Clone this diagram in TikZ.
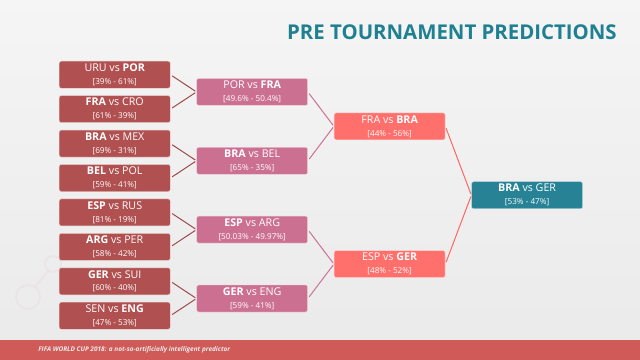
\documentclass[tikz,border=0pt]{standalone}
\usepackage{fontspec}
\setmainfont{Open Sans}
\usepackage{xcolor}
\usetikzlibrary{positioning,calc}

\definecolor{sixteenred}{HTML}{B05050}
\definecolor{quarterpink}{HTML}{CC7092}
\definecolor{semisalmon}{HTML}{FF706C}
\definecolor{finalteal}{HTML}{268294}
\definecolor{titleteal}{HTML}{1E8091}
\definecolor{footerred}{HTML}{D05A58}
\definecolor{decogray}{HTML}{EAE4E4}

\newcommand{\odds}[1]{{\fontsize{5.8}{7}\selectfont [#1]}}

\begin{document}
\begin{tikzpicture}[
  x=0.025cm, y=-0.025cm,
  font=\fontsize{7.6}{9.2}\selectfont,
  node distance=0.175cm and 0.65cm,
  match/.style={rounded corners=1.5pt, minimum width=2.775cm,
                minimum height=0.675cm, inner sep=0pt, align=center,
                text=white, fill=#1, draw=white!70!#1, line width=0.3pt},
  sixteen/.style={match=sixteenred},
  quarter/.style={match=quarterpink, anchor=west},
  semi/.style={match=semisalmon, anchor=west},
  final/.style={match=finalteal, anchor=west},
  link/.style={draw=#1, line width=0.7pt, shorten <=1.5pt, shorten >=1pt}
]

% background and footer
\shade[top color=white!96!black, bottom color=white!92!black]
  (0,0) rectangle (640,340);
\useasboundingbox (0,0) rectangle (640,360);
\draw[decogray, line width=1.2pt] (28,297) circle (12);
\draw[decogray, line width=1.2pt] (53,264) circle (8);
\draw[decogray, line width=1.2pt] (35,287) -- (48,271);
\fill[footerred] (0,340) rectangle (640,360);

\node[anchor=east, inner sep=0pt, text=titleteal,
      font=\fontsize{14.5}{16}\selectfont\bfseries] (title) at (617,32)
  {PRE TOURNAMENT PREDICTIONS};

% round of sixteen
\node[sixteen, anchor=north west] (r1) at (59,61)
  {URU vs \textbf{POR}\\\odds{39\% - 61\%}};
\node[sixteen, below=of r1] (r2) {\textbf{FRA} vs CRO\\\odds{61\% - 39\%}};
\node[sixteen, below=of r2] (r3) {\textbf{BRA} vs MEX\\\odds{69\% - 31\%}};
\node[sixteen, below=of r3] (r4) {\textbf{BEL} vs POL\\\odds{59\% - 41\%}};
\node[sixteen, below=of r4] (r5) {\textbf{ESP} vs RUS\\\odds{81\% - 19\%}};
\node[sixteen, below=of r5] (r6) {\textbf{ARG} vs PER\\\odds{58\% - 42\%}};
\node[sixteen, below=of r6] (r7) {\textbf{GER} vs SUI\\\odds{60\% - 40\%}};
\node[sixteen, below=of r7] (r8) {SEN vs \textbf{ENG}\\\odds{47\% - 53\%}};

% quarter finals
\node[quarter, xshift=0.65cm] (q1) at ($(r1.east)!0.5!(r2.east)$)
  {POR vs \textbf{FRA}\\\odds{49.6\% - 50.4\%}};
\node[quarter, xshift=0.65cm] (q2) at ($(r3.east)!0.5!(r4.east)$)
  {\textbf{BRA} vs BEL\\\odds{65\% - 35\%}};
\node[quarter, xshift=0.65cm] (q3) at ($(r5.east)!0.5!(r6.east)$)
  {\textbf{ESP} vs ARG\\\odds{50.03\% - 49.97\%}};
\node[quarter, xshift=0.65cm] (q4) at ($(r7.east)!0.5!(r8.east)$)
  {\textbf{GER} vs ENG\\\odds{59\% - 41\%}};

% semi finals
\node[semi, xshift=0.65cm] (s1) at ($(q1.east)!0.5!(q2.east)$)
  {FRA vs \textbf{BRA}\\\odds{44\% - 56\%}};
\node[semi, xshift=0.65cm] (s2) at ($(q3.east)!0.5!(q4.east)$)
  {ESP vs \textbf{GER}\\\odds{48\% - 52\%}};

% final
\node[final, xshift=0.65cm] (f) at ($(s1.east)!0.5!(s2.east)$)
  {\textbf{BRA} vs GER\\\odds{53\% - 47\%}};

\foreach \a/\b in {r1/q1, r2/q1, r3/q2, r4/q2, r5/q3, r6/q3, r7/q4, r8/q4}
  \draw[link=sixteenred!90!black] (\a.east) -- (\b.west);
\foreach \a/\b in {q1/s1, q2/s1, q3/s2, q4/s2}
  \draw[link=quarterpink] (\a.east) -- (\b.west);
\foreach \a/\b in {s1/f, s2/f}
  \draw[link=semisalmon!90!red] (\a.east) -- (\b.west);

\node[anchor=west, inner sep=0pt, text=white!92!black,
      font=\fontsize{4.6}{5}\selectfont\bfseries\itshape] (footer) at (38,350)
  {FIFA WORLD CUP 2018: a not-so-artificially intelligent predictor};

\end{tikzpicture}
\end{document}
